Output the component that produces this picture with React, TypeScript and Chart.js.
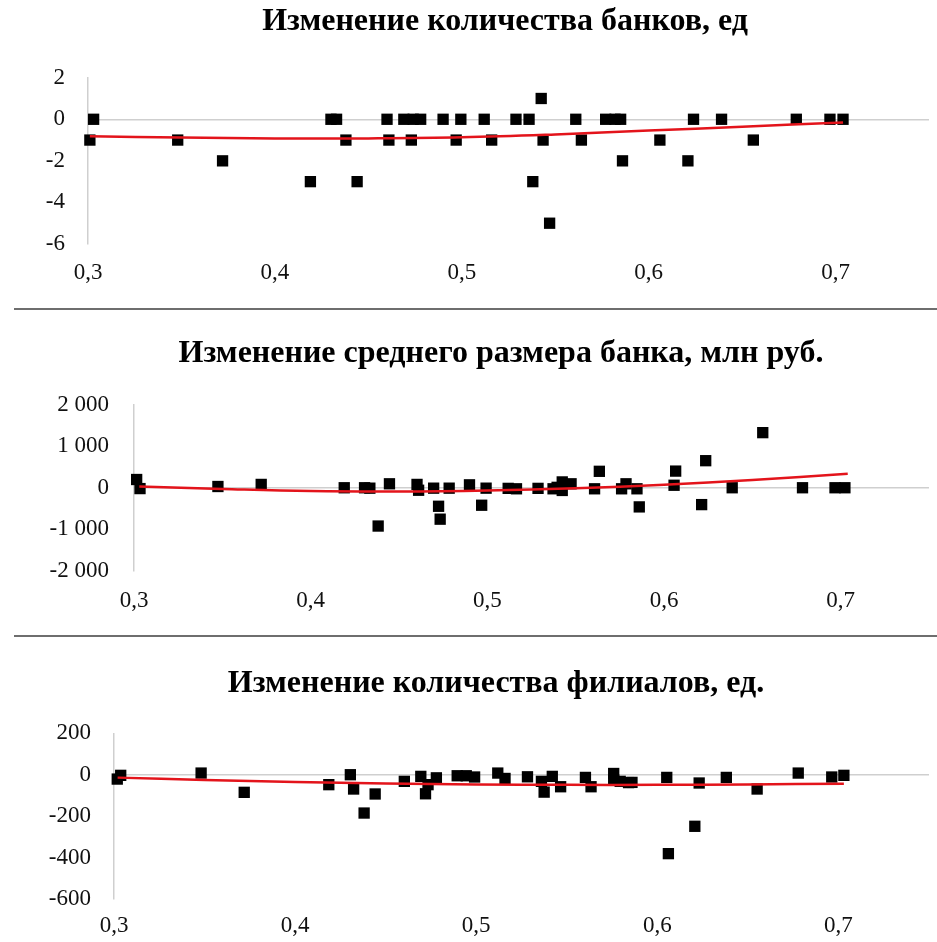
import React, { useEffect, useRef } from 'react';
import { Chart, registerables } from 'chart.js';

Chart.register(...registerables);

// ---------- data ----------
const xTickValues = [0.3, 0.4, 0.5, 0.6, 0.7];

// Panel 1: change in number of banks
const banksX = [0.301, 0.303, 0.348, 0.372, 0.419, 0.430, 0.433, 0.438, 0.444, 0.460, 0.461, 0.469, 0.473, 0.474, 0.478, 0.490, 0.497, 0.4995, 0.512, 0.516, 0.529, 0.536, 0.538, 0.5425, 0.5435, 0.547, 0.561, 0.564, 0.577, 0.582, 0.585, 0.586, 0.606, 0.621, 0.624, 0.639, 0.656, 0.679, 0.697, 0.704];
const banksY = [-1, 0, -1, -2, -3, 0, 0, -1, -3, 0, -1, 0, -1, 0, 0, 0, -1, 0, 0, -1, 0, 0, -3, 1, -1, -5, 0, -1, 0, 0, 0, -2, -1, -2, 0, 0, -1, 0, 0, 0];
const banksTrendX = [0.301, 0.35, 0.40, 0.45, 0.50, 0.55, 0.60, 0.65, 0.704];
const banksTrendY = [-0.82, -0.88, -0.92, -0.92, -0.87, -0.73, -0.54, -0.36, -0.15];
const banksYTicks = [-6, -4, -2, 0, 2];

// Panel 2: change in average bank size, mln rub
const sizeX = [0.3015, 0.3034, 0.3475, 0.372, 0.419, 0.4305, 0.4335, 0.4382, 0.4446, 0.4602, 0.4611, 0.4696, 0.4724, 0.4733, 0.4784, 0.4899, 0.4968, 0.4993, 0.5118, 0.5165, 0.5287, 0.5372, 0.5395, 0.5424, 0.5424, 0.5474, 0.5607, 0.5634, 0.576, 0.5785, 0.5847, 0.586, 0.6057, 0.6066, 0.6213, 0.6236, 0.6386, 0.6559, 0.6784, 0.6968, 0.7024];
const sizeY = [198, -20, 30, 80, 0, 0, -10, -920, 95, 80, -60, -10, -445, -755, -10, 70, -420, -10, -15, -25, -15, -25, 10, 140, -65, 95, -25, 395, -25, 95, -25, -460, 60, 400, -405, 650, 0, 1324, 0, 0, 0];
const sizeTrendX = [0.303, 0.35, 0.40, 0.45, 0.50, 0.55, 0.60, 0.65, 0.704];
const sizeTrendY = [30, -30, -80, -90, -65, -12, 72, 185, 335];
const sizeYTicks = [-2000, -1000, 0, 1000, 2000];

// Panel 3: change in number of branches
const branchX = [0.3018, 0.3037, 0.3481, 0.3719, 0.4186, 0.4305, 0.4323, 0.4381, 0.4442, 0.4603, 0.4694, 0.472, 0.4734, 0.478, 0.4895, 0.4945, 0.4991, 0.5119, 0.5159, 0.5283, 0.536, 0.5375, 0.542, 0.5466, 0.5603, 0.5634, 0.5759, 0.5759, 0.5795, 0.5841, 0.586, 0.6052, 0.6061, 0.6207, 0.6231, 0.6381, 0.6551, 0.6778, 0.6963, 0.703];
const branchY = [-21, -3, 8, -85, -48, 0, -69, -185, -93, -32, -8, -92, -48, -15, -5, -5, -11, 8, -18, -10, -32, -84, -8, -58, -13, -58, 6, -26, -32, -38, -37, -13, -381, -249, -40, -13, -69, 8, -11, -3];
const branchTrendX = [0.302, 0.35, 0.40, 0.45, 0.50, 0.55, 0.60, 0.65, 0.703];
const branchTrendY = [-14, -25, -35, -42, -47, -49, -49, -47, -43];
const branchYTicks = [-600, -400, -200, 0, 200];

const titles = [
  'Изменение количества банков, ед',
  'Изменение среднего размера банка, млн руб.',
  'Изменение количества филиалов, ед.',
];

// ---------- helpers ----------
const SERIF = '"Liberation Serif", "Times New Roman", Times, serif';
const AXIS_GRAY = '#cfcfcf';

const pts = (xs: number[], ys: number[]) => xs.map((x, i) => ({ x, y: ys[i] }));
const fmtThousands = (v: number) => {
  const s = Math.abs(v).toString().replace(/\B(?=(\d{3})+(?!\d))/g, ' ');
  return (v < 0 ? '-' : '') + s;
};

type Panel = {
  title: string;
  titleX: number;
  titleY: number;
  width: number;
  height: number;
  top: number; // chart area top
  left: number; // chart area left
  xAxisH: number;
  xPad: number;
  yPad: number;
  xs: number[];
  ys: number[];
  tx: number[];
  ty: number[];
  yTicks: number[];
  yFmt: (v: number) => string;
};

function ScatterPanel({ p }: { p: Panel }) {
  const ref = useRef<HTMLCanvasElement | null>(null);
  useEffect(() => {
    if (!ref.current) return;
    const titlePlugin = {
      id: 'panelTitle',
      afterDraw(chart: any) {
        const ctx = chart.ctx;
        ctx.save();
        ctx.font = `bold 32px ${SERIF}`;
        ctx.fillStyle = '#000';
        ctx.textAlign = 'center';
        ctx.textBaseline = 'middle';
        ctx.fillText(p.title, p.titleX, p.titleY);
        ctx.restore();
      },
    };
    const chart = new Chart(ref.current, {
      type: 'scatter',
      data: {
        datasets: [
          {
            data: pts(p.tx, p.ty),
            showLine: true,
            borderColor: '#e3141b',
            borderWidth: 2.5,
            pointRadius: 0,
            tension: 0.4,
            fill: false,
            clip: false,
          },
          {
            data: pts(p.xs, p.ys),
            pointStyle: 'rect',
            pointRadius: 8,
            backgroundColor: '#000',
            borderColor: '#000',
            borderWidth: 0,
            clip: false,
          },
        ],
      },
      options: {
        animation: false,
        responsive: false,
        events: [],
        layout: { padding: { top: p.top, right: 5, bottom: 0, left: 0 } },
        plugins: {
          legend: { display: false },
          tooltip: { enabled: false },
          title: { display: false },
        },
        scales: {
          x: {
            type: 'linear',
            min: 0.3,
            max: 0.75,
            afterBuildTicks: (axis: any) => {
              axis.ticks = xTickValues.map((v) => ({ value: v }));
            },
            afterFit: (s: any) => {
              s.height = p.xAxisH;
            },
            grid: { display: false, drawTicks: false },
            border: { display: false },
            ticks: {
              padding: p.xPad,
              color: '#111',
              font: { family: SERIF, size: 23 },
              maxRotation: 0,
              autoSkip: false,
              callback: (v: any) => Number(v).toFixed(1).replace('.', ','),
            },
          },
          y: {
            type: 'linear',
            min: p.yTicks[0],
            max: p.yTicks[p.yTicks.length - 1],
            afterBuildTicks: (axis: any) => {
              axis.ticks = p.yTicks.map((v) => ({ value: v }));
            },
            afterFit: (s: any) => {
              s.width = p.left;
            },
            grid: {
              drawTicks: false,
              color: (c: any) => (c.tick && c.tick.value === 0 ? AXIS_GRAY : 'rgba(0,0,0,0)'),
              lineWidth: 1.5,
            },
            border: { display: true, color: AXIS_GRAY, width: 1.5 },
            ticks: {
              padding: p.yPad,
              color: '#111',
              font: { family: SERIF, size: 23 },
              autoSkip: false,
              callback: (v: any) => p.yFmt(Number(v)),
            },
          },
        },
      },
      plugins: [titlePlugin],
    } as any);
    return () => chart.destroy();
  }, [p]);
  return <canvas ref={ref} width={p.width} height={p.height} style={{ display: 'block' }} />;
}

const panels: Panel[] = [
  {
    title: titles[0], titleX: 505, titleY: 22, width: 937, height: 308,
    top: 77.7, left: 88, xAxisH: 64, xPad: 15, yPad: 23,
    xs: banksX, ys: banksY, tx: banksTrendX, ty: banksTrendY,
    yTicks: banksYTicks, yFmt: (v) => String(v),
  },
  {
    title: titles[1], titleX: 501, titleY: 46, width: 937, height: 328,
    top: 96.5, left: 134, xAxisH: 65, xPad: 16, yPad: 25,
    xs: sizeX, ys: sizeY, tx: sizeTrendX, ty: sizeTrendY,
    yTicks: sizeYTicks, yFmt: fmtThousands,
  },
  {
    title: titles[2], titleX: 496, titleY: 48, width: 937, height: 306,
    top: 97.3, left: 114, xAxisH: 43, xPad: 13, yPad: 23,
    xs: branchX, ys: branchY, tx: branchTrendX, ty: branchTrendY,
    yTicks: branchYTicks, yFmt: (v) => String(v),
  },
];

const panelTops = [0, 308, 636];
const separatorTops = [308, 635];

export default function App() {
  return (
    <div style={{ position: 'absolute', left: 0, top: 0, width: 937, height: 942, background: '#fff', overflow: 'hidden' }}>
      {panels.map((p, i) => (
        <div key={i} style={{ position: 'absolute', left: 0, top: panelTops[i] }}>
          <ScatterPanel p={p} />
        </div>
      ))}
      {separatorTops.map((t, i) => (
        <div key={'s' + i} style={{ position: 'absolute', left: 14, top: t, width: 923, height: 2, background: '#6e6e6e' }} />
      ))}
    </div>
  );
}
